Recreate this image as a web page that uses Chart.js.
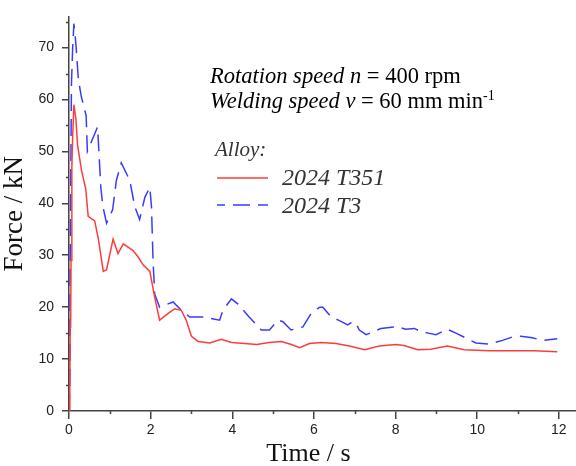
<!DOCTYPE html>
<html>
<head>
<meta charset="utf-8">
<script src="https://cdn.jsdelivr.net/npm/chart.js@4.4.1/dist/chart.umd.min.js"></script>
<style>
  html, body { margin: 0; padding: 0; background: #fff; }
  #wrap { width: 576px; height: 466px; }
</style>
</head>
<body>
<div id="wrap"><canvas id="forceChart"></canvas></div>
<script>
// 2024 T351 (red, solid)
const t351Time = [0, 0.02, 0.03, 0.04, 0.05, 0.07, 0.09, 0.12, 0.17, 0.21, 0.31, 0.41, 0.47, 0.63, 0.72, 0.84, 0.92,
  1.08, 1.2, 1.33, 1.57, 1.69, 1.82, 1.98, 2.1, 2.22, 2.43, 2.59, 2.75, 2.87, 3.0, 3.16, 3.45, 3.73, 3.98,
  4.3, 4.6, 4.9, 5.2, 5.45, 5.65, 5.89, 6.18, 6.54, 6.87, 7.24, 7.6, 8.01, 8.21, 8.54, 8.86, 9.27, 9.68,
  10.3, 11.4, 11.96];
const t351Force = [0, 5.5, 17, 16, 29, 47, 53, 59, 56.2, 51.2, 46.2, 42.8, 37.5, 36.6, 33.1, 26.9, 27.2,
  33.1, 30.3, 32.2, 30.9, 29.7, 28.1, 26.9, 21.9, 17.5, 18.8, 19.7, 19.4, 17.5, 14.4, 13.4, 13.1, 13.8, 13.2,
  13.0, 12.8, 13.2, 13.4, 12.8, 12.2, 13.0, 13.2, 13.0, 12.5, 11.8, 12.5, 12.8, 12.6, 11.8, 11.9, 12.5, 11.8,
  11.6, 11.6, 11.4];

// 2024 T3 (blue, dashed)
const t3Time = [0, 0.02, 0.03, 0.06, 0.09, 0.12, 0.17, 0.23, 0.3, 0.42, 0.45, 0.7, 0.78, 0.83, 0.92,
  1.07, 1.16, 1.28, 1.49, 1.61, 1.73, 1.86, 1.98, 2.02, 2.06, 2.1, 2.22, 2.55, 2.75, 2.96, 3.28, 3.69, 3.77, 3.98,
  4.14, 4.38, 4.71, 4.91, 5.12, 5.24, 5.44, 5.73, 5.93, 6.14, 6.22, 6.42, 6.6, 6.83, 6.95, 7.03, 7.11, 7.28,
  7.64, 7.85, 8.05, 8.25, 8.46, 8.62, 8.8, 8.99, 9.27, 9.48, 9.76, 9.97, 10.3, 10.62, 10.86, 11.07, 11.35,
  11.6, 11.96];
const t3Force = [0, 5, 30, 63, 70, 74.6, 70.6, 63.8, 60.6, 56.9, 50, 54.7, 43, 39.4, 36.2,
  38.8, 44.4, 47.8, 44.4, 39.4, 36.9, 41.2, 43.1, 39.4, 28.7, 22.5, 20, 21, 19.4, 18.1, 18.1, 17.5, 19.4, 21.6,
  20.6, 18.4, 15.6, 15.6, 17.5, 17.2, 15.6, 16.2, 18.75, 20, 20, 18.1, 17.5, 16.6, 17.2, 16.9, 15.6, 14.7,
  15.9, 16.1, 16.25, 15.75, 15.9, 15.3, 15.0, 14.7, 15.75, 15, 13.9, 13.1, 12.9, 13.6, 14.25, 14.4, 14.1,
  13.6, 13.9];

const seriesNames = ['2024 T351', '2024 T3'];
const xTicks = [0, 2, 4, 6, 8, 10, 12];
const yTicks = [0, 10, 20, 30, 40, 50, 60, 70];

const axisColor = '#444';
const serif = '"Liberation Serif", "Times New Roman", serif';

function toPoints(xs, ys) {
  return xs.map((x, i) => ({ x: x, y: ys[i] }));
}

// minor ticks, annotation text, legend and x title
const decorPlugin = {
  id: 'decor',
  afterDraw(chart) {
    const ctx = chart.ctx;
    const x = chart.scales.x, y = chart.scales.y;
    ctx.save();

    ctx.strokeStyle = axisColor;
    ctx.lineWidth = 1.5;
    ctx.beginPath();
    for (let v = 1; v <= 11; v += 2) {
      const px = Math.round(x.getPixelForValue(v)) + 0.5;
      ctx.moveTo(px, x.top);
      ctx.lineTo(px, x.top + 3);
    }
    for (let v = 5; v <= 75; v += 10) {
      const py = Math.round(y.getPixelForValue(v)) + 0.5;
      ctx.moveTo(y.right - 3, py);
      ctx.lineTo(y.right, py);
    }
    ctx.stroke();

    // annotation
    ctx.fillStyle = '#000';
    ctx.textBaseline = 'alphabetic';
    ctx.textAlign = 'left';
    function runs(parts, x0, base) {
      let cx = x0;
      parts.forEach(p => {
        ctx.font = p[1] + ' ' + p[2] + 'px ' + serif;
        ctx.fillText(p[0], cx, base + (p[3] || 0));
        cx += ctx.measureText(p[0]).width;
      });
    }
    runs([['Rotation speed n', 'italic', 22.5], [' = 400 rpm', 'normal', 22.5]], 210, 83);
    runs([['Welding speed v', 'italic', 22.5], [' = 60 mm min', 'normal', 22.5], ['-1', 'normal', 14, -8]], 210, 108);

    // legend
    ctx.fillStyle = '#333';
    ctx.font = 'italic 21px ' + serif;
    ctx.fillText('Alloy:', 215, 156);
    const sets = chart.data.datasets;
    const rows = [178, 205];
    const bases = [185, 213];
    sets.forEach((ds, i) => {
      ctx.strokeStyle = ds.borderColor;
      ctx.lineWidth = ds.borderWidth;
      ctx.setLineDash(ds.borderDash || []);
      ctx.lineDashOffset = ds.borderDash ? 9 : 0;
      ctx.beginPath();
      ctx.moveTo(217, rows[i]);
      ctx.lineTo(268, rows[i]);
      ctx.stroke();
      ctx.setLineDash([]);
      ctx.fillStyle = '#333';
      ctx.font = 'italic 24px ' + serif;
      ctx.fillText(ds.label, 282, bases[i]);
    });

    // x axis title
    ctx.fillStyle = '#111';
    ctx.font = '26px ' + serif;
    ctx.textAlign = 'center';
    ctx.fillText('Time / s', 308.5, 461);
    ctx.restore();
  }
};

new Chart(document.getElementById('forceChart'), {
  type: 'line',
  data: {
    datasets: [
      {
        label: seriesNames[0],
        data: toPoints(t351Time, t351Force),
        borderColor: '#ff3b3b',
        borderWidth: 1.5,
        pointRadius: 0,
        tension: 0,
        fill: false
      },
      {
        label: seriesNames[1],
        data: toPoints(t3Time, t3Force),
        borderColor: '#3a3aff',
        borderWidth: 1.5,
        borderDash: [17, 8],
        pointRadius: 0,
        tension: 0,
        fill: false
      }
    ]
  },
  options: {
    responsive: true,
    maintainAspectRatio: false,
    animation: false,
    layout: { padding: { top: 4, right: 0, left: 0, bottom: 0 } },
    plugins: {
      legend: { display: false },
      tooltip: { enabled: false }
    },
    scales: {
      x: {
        type: 'linear',
        min: 0,
        max: 12.42,
        afterFit: s => { s.height = 55; },
        afterBuildTicks: s => { s.ticks = xTicks.map(v => ({ value: v })); },
        border: { display: true, color: axisColor, width: 1.5 },
        grid: { display: true, drawOnChartArea: false, drawTicks: true, tickLength: 8, color: axisColor, lineWidth: 1.5 },
        ticks: {
          color: '#222',
          padding: 3,
          maxRotation: 0,
          font: { family: '"Liberation Sans", Arial, sans-serif', size: 14 }
        },
        title: { display: false }
      },
      y: {
        min: 0,
        max: 76,
        afterFit: s => { s.width = 69; },
        afterBuildTicks: s => { s.ticks = yTicks.map(v => ({ value: v })); },
        border: { display: true, color: axisColor, width: 1.5 },
        grid: { display: true, drawOnChartArea: false, drawTicks: true, tickLength: 7, color: axisColor, lineWidth: 1.5 },
        ticks: {
          color: '#222',
          padding: 8,
          font: { family: '"Liberation Sans", Arial, sans-serif', size: 14 }
        },
        title: {
          display: true,
          text: 'Force / kN',
          color: '#111',
          font: { family: serif, size: 27, lineHeight: 1 },
          padding: { top: 1, bottom: 0 }
        }
      }
    }
  },
  plugins: [decorPlugin]
});
</script>
</body>
</html>
